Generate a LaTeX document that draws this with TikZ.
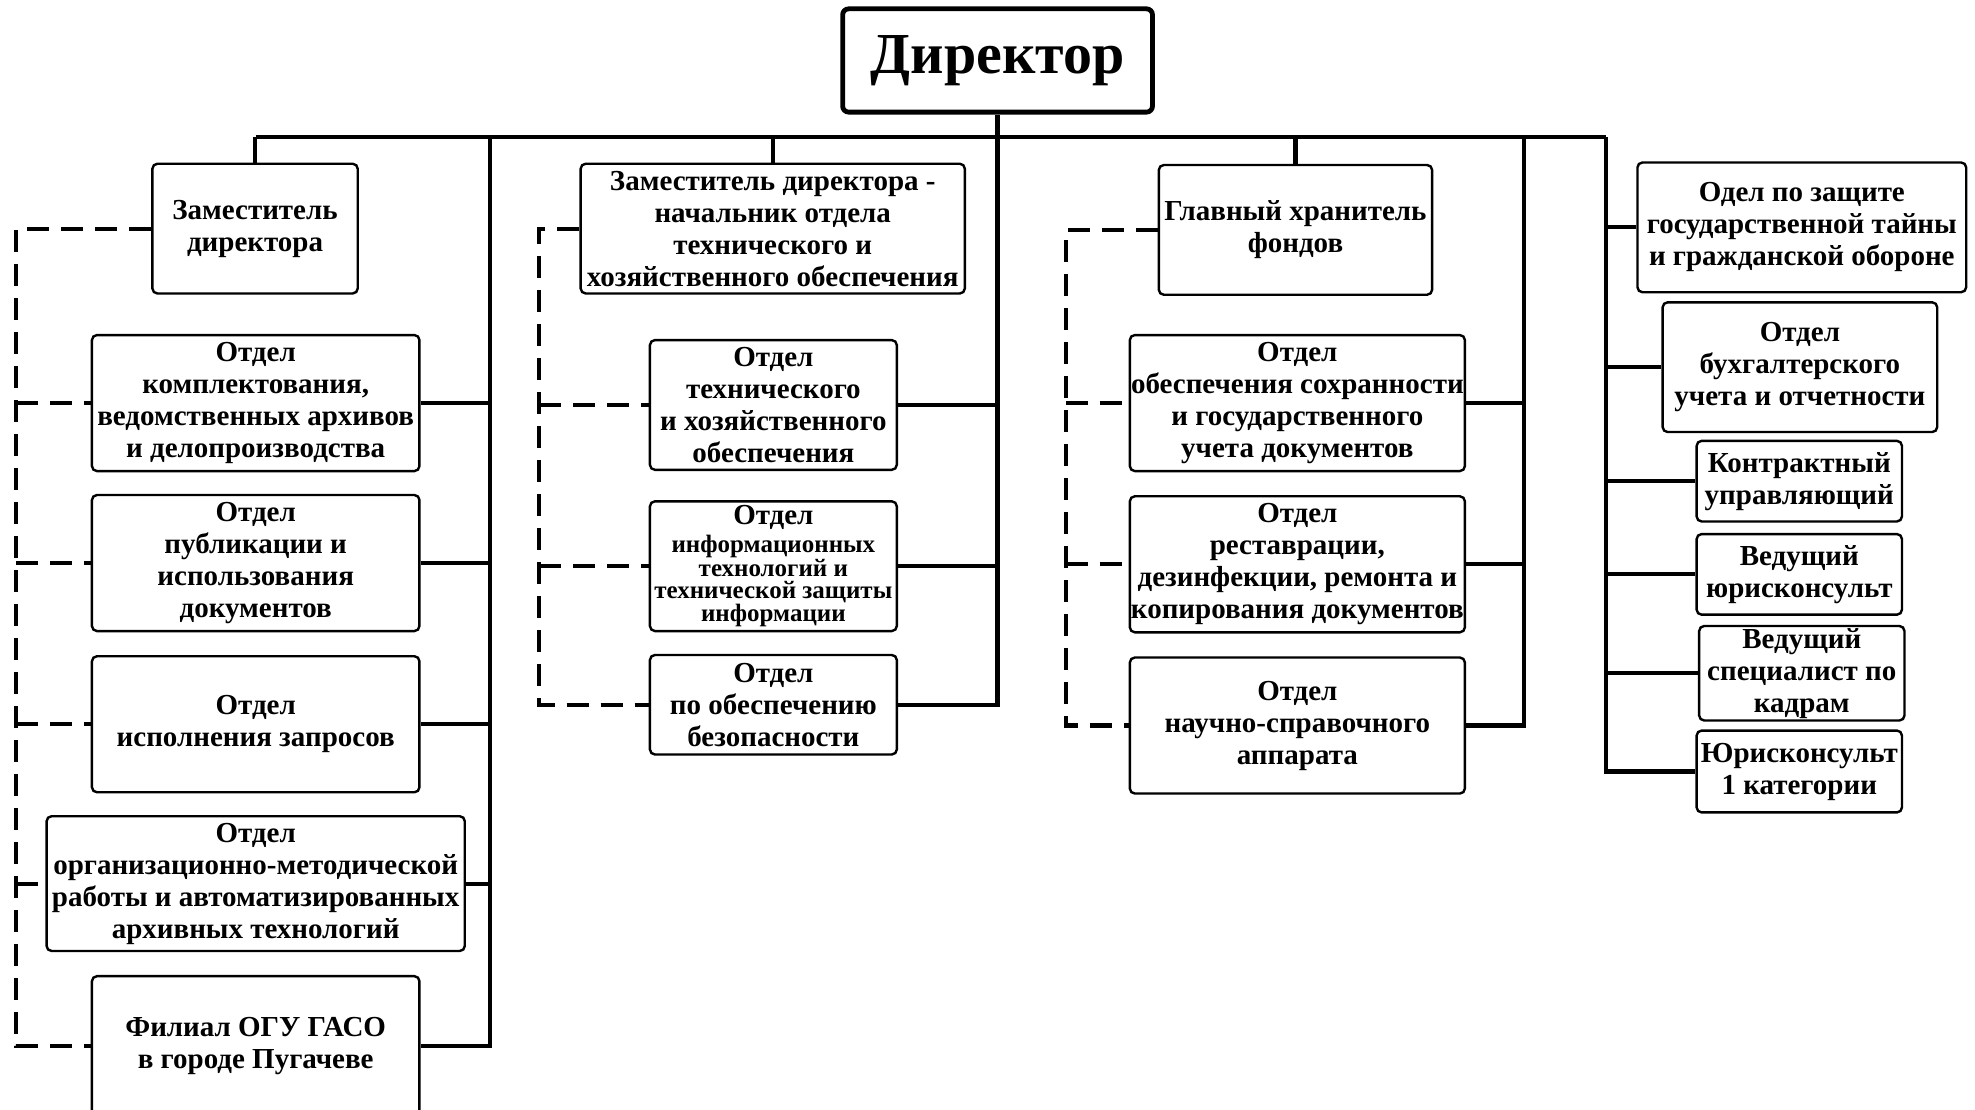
\documentclass[tikz,border=0pt]{standalone}
\usepackage{fontspec}
\setmainfont{Liberation Serif}
% #1 options, #2 name, #3 x1, #4 y1, #5 x2, #6 y2, #7 text
\newcommand\bx[7][]{\node[box,#1,minimum width={(#5-#3)*0.6298pt},minimum height={(#6-#4)*0.6298pt}] (#2) at ({(#3+#5)/2},{(#4+#6)/2}) {#7};}
\begin{document}
\begin{tikzpicture}[x={(0.6298pt,0pt)},y={(0pt,-0.6298pt)},
  box/.style={draw, line width=1.2pt, rounded corners=2.5pt, inner sep=0pt, align=center, fill=white,
    font=\fontsize{14.5}{16}\selectfont\bfseries},
  dirbox/.style={line width=2.4pt, rounded corners=3pt, font=\fontsize{29}{32}\selectfont\bfseries},
  conn/.style={line width=2.1pt},
  dsh/.style={line width=2.1pt, dash pattern=on 11pt off 6pt}]
\useasboundingbox (0,0) rectangle (1568,881);
\clip (0,0) rectangle (1568,881);
% director
\bx[dirbox]{dir}{669}{7}{915}{89}{Директор}
% column 1
\bx{z1}{121}{130}{284}{233}{Заместитель\\директора}
\bx{b3}{73}{266}{333}{374}{Отдел\\комплектования,\\ведомственных архивов\\и делопроизводства}
\bx{b4}{73}{393}{333}{501}{Отдел\\публикации и\\использования\\документов}
\bx{b5}{73}{521}{333}{629}{Отдел\\исполнения запросов}
\bx{b6}{37}{648}{369}{755}{Отдел\\организационно-методической\\работы и автоматизированных\\архивных технологий}
\bx{b7}{73}{775}{333}{886}{Филиал ОГУ ГАСО\\в городе Пугачеве}
% column 2
\bx{z2}{461}{130}{766}{233}{Заместитель директора -\\начальник отдела\\технического и\\хозяйственного обеспечения}
\bx{b9}{516}{270}{712}{373}{Отдел\\технического\\и хозяйственного\\обеспечения}
\bx[font=\fontsize{12.5}{10.7}\selectfont\bfseries]{b10}{516}{398}{712}{501}{{\fontsize{14.5}{16}\selectfont Отдел}\\[1.8pt]информационных\\технологий и\\технической защиты\\информации}
\bx{b11}{516}{520}{712}{599}{Отдел\\по обеспечению\\безопасности}
% column 3
\bx{z3}{920}{131}{1137}{234}{Главный хранитель\\фондов}
\bx{b13}{897}{266}{1163}{374}{Отдел\\обеспечения сохранности\\и государственного\\учета документов}
\bx{b14}{897}{394}{1163}{502}{Отдел\\реставрации,\\дезинфекции, ремонта и\\копирования документов}
\bx{b15}{897}{522}{1163}{630}{Отдел\\научно-справочного\\аппарата}
% column 4
\bx{b16}{1300}{129}{1561}{232}{Одел по защите\\государственной тайны\\и гражданской обороне}
\bx{b17}{1320}{240}{1538}{343}{Отдел\\бухгалтерского\\учета и отчетности}
\bx{b18}{1347}{350}{1510}{414}{Контрактный\\управляющий}
\bx{b19}{1347}{424}{1510}{488}{Ведущий\\юрисконсульт}
\bx{b20}{1349}{497}{1512}{572}{Ведущий\\специалист по\\кадрам}
\bx{b21}{1347}{580}{1510}{645}{Юрисконсульт\\1 категории}
% bus coordinates
\coordinate (busL) at (203,109);
\coordinate (busR) at (1275,109);
\coordinate (v1) at (389,109);
\coordinate (v3) at (1210,109);
\coordinate (d1) at (13,109);
\coordinate (d2) at (428,109);
\coordinate (d3) at (846,109);
% solid connectors
\draw[conn] (busL) -- (busR);
\draw[conn] (dir.south) -- (dir.south |- b11.east) -- (b11.east);
\draw[conn] (z1.north |- busL) -- (z1.north);
\draw[conn] (z2.north |- busL) -- (z2.north);
\draw[conn] (z3.north |- busL) -- (z3.north);
\draw[conn] (v1) -- (v1 |- b7.east) -- (b7.east);
\foreach \b in {b3,b4,b5,b6} \draw[conn] (\b.east) -- (\b.east -| v1);
\foreach \b in {b9,b10} \draw[conn] (\b.east) -- (\b.east -| dir.south);
\draw[conn] (v3) -- (v3 |- b15.east) -- (b15.east);
\foreach \b in {b13,b14} \draw[conn] (\b.east) -- (\b.east -| v3);
\draw[conn] (busR) -- (busR |- b21.west) -- (b21.west);
\foreach \b in {b16,b17,b18,b19,b20} \draw[conn] (\b.west) -- (\b.west -| busR);
% dashed connectors
\draw[dsh] (z1.west) -- (z1.west -| d1) -- (b7.west -| d1) -- (b7.west);
\foreach \b in {b3,b4,b5,b6} \draw[dsh] (\b.west -| d1) -- (\b.west);
\draw[dsh] (z2.west) -- (z2.west -| d2) -- (b11.west -| d2) -- (b11.west);
\foreach \b in {b9,b10} \draw[dsh] (\b.west -| d2) -- (\b.west);
\draw[dsh] (z3.west) -- (z3.west -| d3) -- (b15.west -| d3) -- (b15.west);
\foreach \b in {b13,b14} \draw[dsh] (\b.west -| d3) -- (\b.west);
\end{tikzpicture}
\end{document}
